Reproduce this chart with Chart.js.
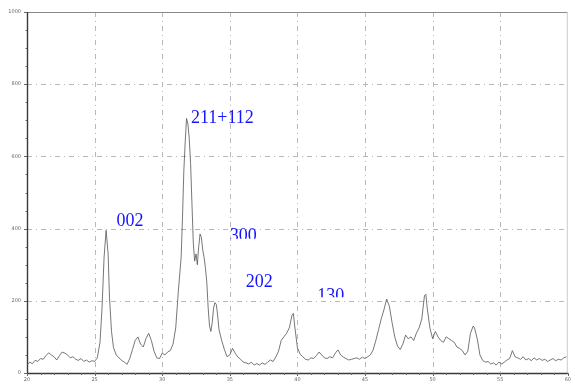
<!DOCTYPE html>
<html>
<head>
<meta charset="utf-8">
<script src="https://cdn.jsdelivr.net/npm/chart.js@4/dist/chart.umd.min.js"></script>
<style>
  html, body { margin: 0; padding: 0; background: #ffffff; }
  #wrap { width: 575px; height: 385px; }
</style>
</head>
<body>
<div id="wrap"><canvas id="xrd" width="575" height="385"></canvas></div>
<script>
// Diffraction angle (2θ, degrees)
const twoTheta = [
  20.0, 20.2, 20.4, 20.6, 20.8, 21.0, 21.2, 21.4, 21.6, 21.8,
  22.0, 22.2, 22.4, 22.6, 22.8, 23.0, 23.2, 23.4, 23.6, 23.8,
  24.0, 24.2, 24.4, 24.6, 24.8, 25.0, 25.2, 25.4, 25.55, 25.7,
  25.85, 26.0, 26.1, 26.25, 26.4, 26.6, 26.8, 27.0, 27.2, 27.4,
  27.6, 27.8, 28.0, 28.2, 28.4, 28.6, 28.8, 29.0, 29.2, 29.4,
  29.6, 29.8, 30.0, 30.2, 30.4, 30.6, 30.8, 31.0, 31.2, 31.4,
  31.5, 31.6, 31.7, 31.8, 31.9, 32.0, 32.1, 32.2, 32.3, 32.4,
  32.5, 32.6, 32.7, 32.8, 32.9, 33.0, 33.1, 33.2, 33.3, 33.4,
  33.5, 33.6, 33.7, 33.8, 33.9, 34.0, 34.1, 34.2, 34.4, 34.6,
  34.8, 35.0, 35.2, 35.4, 35.6, 35.8, 36.0, 36.2, 36.4, 36.6,
  36.8, 37.0, 37.2, 37.4, 37.6, 37.8, 38.0, 38.2, 38.4, 38.6,
  38.8, 39.0, 39.2, 39.4, 39.6, 39.7, 39.8, 40.0, 40.2, 40.4,
  40.6, 40.8, 41.0, 41.2, 41.4, 41.6, 41.8, 42.0, 42.2, 42.4,
  42.6, 42.8, 43.0, 43.2, 43.4, 43.6, 43.8, 44.0, 44.2, 44.4,
  44.6, 44.8, 45.0, 45.2, 45.4, 45.6, 45.8, 46.0, 46.2, 46.4,
  46.6, 46.8, 47.0, 47.2, 47.4, 47.6, 47.8, 48.0, 48.2, 48.4,
  48.6, 48.8, 49.0, 49.2, 49.4, 49.5, 49.6, 49.8, 50.0, 50.2,
  50.4, 50.6, 50.8, 51.0, 51.2, 51.4, 51.6, 51.8, 52.0, 52.2,
  52.4, 52.6, 52.8, 53.0, 53.1, 53.3, 53.5, 53.7, 53.9, 54.1,
  54.3, 54.5, 54.7, 54.9, 55.1, 55.3, 55.5, 55.7, 55.9, 56.1,
  56.3, 56.5, 56.7, 56.9, 57.1, 57.3, 57.5, 57.7, 57.9, 58.1,
  58.3, 58.5, 58.7, 58.9, 59.1, 59.3, 59.5, 59.7, 59.9
];

// Measured intensity (counts)
const intensity = [
  22, 30, 26, 35, 32, 40, 38, 48, 56, 50,
  45, 36, 48, 58, 55, 50, 42, 45, 38, 35,
  40, 32, 36, 30, 34, 32, 42, 85, 180, 320,
  395, 330, 210, 115, 70, 50, 42, 35, 30, 24,
  40, 65, 90, 100, 80, 72, 95, 110, 90, 60,
  42, 40, 55, 50, 58, 62, 80, 125, 230, 320,
  430, 560, 640, 705, 690, 650, 580, 470, 360, 310,
  330, 300, 350, 385, 375, 340, 320, 290, 250, 180,
  130, 115, 140, 180, 195, 190, 160, 120, 90, 65,
  45, 50, 68, 55, 44, 38, 30, 28, 25, 30,
  22, 26, 22, 28, 24, 30, 36, 32, 44, 60,
  90, 100, 110, 125, 160, 165, 130, 70, 52, 45,
  38, 36, 42, 40, 48, 58, 50, 42, 40, 45,
  42, 55, 64, 50, 44, 40, 36, 38, 40, 42,
  38, 44, 40, 45, 50, 64, 90, 120, 150, 175,
  205, 185, 140, 100, 75, 65, 80, 105, 95, 100,
  90, 110, 125, 150, 215, 218, 180, 125, 95, 115,
  100, 90, 85, 100, 95, 90, 85, 72, 68, 62,
  50, 60, 110, 130, 125, 95, 50, 35, 30, 32,
  25, 28, 22, 30, 25, 30, 36, 40, 62, 45,
  42, 38, 45, 36, 40, 34, 42, 36, 40, 35,
  38, 32, 36, 40, 34, 38, 36, 42, 45
];

// Axis tick values
const xTicks = [20, 25, 30, 35, 40, 45, 50, 55, 60];
const yTicks = [0, 200, 400, 600, 800, 1000];

// Reflection indices
const hklLabels = ['002', '211+112', '300', '202', '130'];

const points = twoTheta.map((t, i) => ({ x: t, y: intensity[i] }));

// Where each reflection label sits (data coordinates), with an optional cut-off
const hklPlacement = [
  { deg: 26.62, counts: 407 },
  { deg: 32.13, counts: 692 },
  { deg: 35.00, counts: 366, clipCounts: 372 },
  { deg: 36.18, counts: 238 },
  { deg: 41.47, counts: 199, clipCounts: 210 }
];

const GRID = '#b8b8b8';

const framePlugin = {
  id: 'frame',
  beforeDatasetsDraw(chart) {
    const { ctx, chartArea: a, scales: { x, y } } = chart;
    ctx.save();
    // dashed grid, skipping the frame edges
    ctx.strokeStyle = GRID;
    ctx.lineWidth = 1;
    ctx.setLineDash([5, 4, 1, 4]);
    xTicks.forEach(v => {
      if (v === 20 || v === 60) return;
      const px = Math.round(x.getPixelForValue(v)) + 0.5;
      ctx.beginPath(); ctx.moveTo(px, a.top); ctx.lineTo(px, a.bottom); ctx.stroke();
    });
    yTicks.forEach(v => {
      if (v === 0 || v === 1000) return;
      const py = Math.round(y.getPixelForValue(v)) + 0.5;
      ctx.beginPath(); ctx.moveTo(a.left, py); ctx.lineTo(a.right, py); ctx.stroke();
    });
    ctx.setLineDash([]);
    // frame: top and right edges
    ctx.strokeStyle = '#8a8a8a';
    ctx.beginPath();
    ctx.moveTo(a.left, a.top + 0.5); ctx.lineTo(a.right, a.top + 0.5);
    ctx.stroke();
    ctx.strokeStyle = '#cccccc';
    ctx.beginPath();
    ctx.moveTo(a.right - 0.5, a.top); ctx.lineTo(a.right - 0.5, a.bottom);
    ctx.stroke();
    // left and bottom axes
    ctx.strokeStyle = '#3a3a3a';
    ctx.lineWidth = 1.4;
    ctx.beginPath();
    ctx.moveTo(a.left + 0.5, a.top); ctx.lineTo(a.left + 0.5, a.bottom);
    ctx.moveTo(a.left, a.bottom + 0.5); ctx.lineTo(a.right, a.bottom + 0.5);
    ctx.stroke();
    // minor ticks
    ctx.lineWidth = 1;
    ctx.strokeStyle = '#666';
    ctx.beginPath();
    for (let d = 20; d <= 60; d += 1) {
      const px = Math.round(x.getPixelForValue(d)) + 0.5;
      const len = d % 5 === 0 ? 3 : 2;
      ctx.moveTo(px, a.bottom); ctx.lineTo(px, a.bottom + len);
    }
    for (let c = 0; c <= 1000; c += 50) {
      const py = Math.round(y.getPixelForValue(c)) + 0.5;
      const len = c % 200 === 0 ? 3 : 1.5;
      ctx.moveTo(a.left, py); ctx.lineTo(a.left - len, py);
    }
    ctx.stroke();
    ctx.restore();
  },
  afterDatasetsDraw(chart) {
    const { ctx, scales: { x, y } } = chart;
    ctx.save();
    ctx.font = '18px "Liberation Serif", "Times New Roman", serif';
    ctx.fillStyle = 'rgb(20,20,255)';
    ctx.textAlign = 'left';
    ctx.textBaseline = 'alphabetic';
    hklLabels.forEach((txt, i) => {
      const p = hklPlacement[i];
      const px = x.getPixelForValue(p.deg);
      const py = y.getPixelForValue(p.counts);
      ctx.save();
      if (p.clipCounts !== undefined) {
        const cy = y.getPixelForValue(p.clipCounts);
        ctx.beginPath();
        ctx.rect(px - 2, 0, 60, cy);
        ctx.clip();
      }
      ctx.fillText(txt, px, py);
      ctx.restore();
    });
    ctx.restore();
  }
};

new Chart(document.getElementById('xrd'), {
  type: 'line',
  data: {
    datasets: [{
      data: points,
      borderColor: 'rgba(85,85,85,0.8)',
      borderWidth: 1,
      pointRadius: 0,
      tension: 0,
      fill: false
    }]
  },
  options: {
    responsive: false,
    animation: false,
    devicePixelRatio: 1,
    layout: { padding: { top: 12, right: 3, left: 0, bottom: 0 } },
    plugins: { legend: { display: false }, tooltip: { enabled: false } },
    scales: {
      x: {
        type: 'linear',
        min: 20, max: 60,
        afterBuildTicks(s) { s.ticks = xTicks.map(v => ({ value: v })); },
        afterFit(s) { s.height = 12; },
        grid: { display: false, drawTicks: false },
        border: { display: false },
        ticks: {
          padding: 4,
          color: '#666',
          font: { size: 5, family: 'DejaVu Sans' },
          maxRotation: 0,
          autoSkip: false,
          callback: v => String(v)
        }
      },
      y: {
        min: 0, max: 1000,
        afterBuildTicks(s) { s.ticks = yTicks.map(v => ({ value: v })); },
        afterFit(s) { s.width = 27; },
        grid: { display: false, drawTicks: false },
        border: { display: false },
        ticks: {
          padding: 6,
          color: '#666',
          font: { size: 5, family: 'DejaVu Sans' },
          callback: v => String(v)
        }
      }
    }
  },
  plugins: [framePlugin]
});
</script>
</body>
</html>
